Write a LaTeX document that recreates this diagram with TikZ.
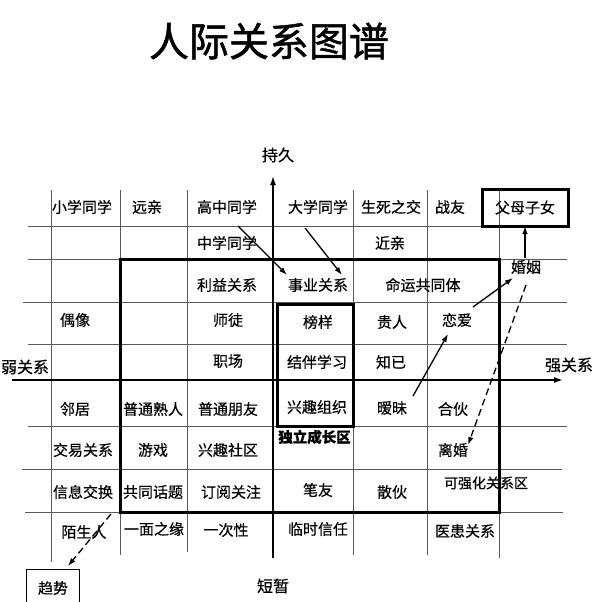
\documentclass[tikz,border=0pt]{standalone}
\usepackage{fontspec}
\newfontfamily\cjk{Noto Sans CJK SC}[FakeBold=0.4]
\newfontfamily\cjktitle{Noto Sans CJK SC}[FakeBold=1.2]
\usetikzlibrary{arrows.meta}
\begin{document}
\begin{tikzpicture}[x=1pt,y=-1pt,
  gridline/.style={line width=0.9pt, draw=black!65},
  boldbox/.style={line width=3pt, draw=black},
  cell/.style={font=\cjk\fontsize{15}{15}\selectfont, inner sep=0pt},
  axislbl/.style={font=\cjk\fontsize{16}{16}\selectfont, inner sep=0pt},
  axisline/.style={line width=1.5pt, -{Latex[length=9pt,width=6pt]}},
  arr/.style={line width=1.3pt, -{Latex[length=8pt,width=5.5pt]}},
  darr/.style={arr, dash pattern=on 7pt off 4pt}
]
\useasboundingbox (0,0) rectangle (600,602);
\fill[white] (0,0) rectangle (600,602);

% title
\node[font=\cjktitle\fontsize{40}{40}\selectfont, inner sep=0pt] (title) at (269,41) {人际关系图谱};

% grid
\draw[gridline] (28,226) -- (567,226);
\foreach \y/\a/\b in {259/28/567, 302/23/567, 344/28/567, 426/28/567, 469/22/562, 512/25/563}
  \draw[gridline] (\a,\y) -- (\b,\y);
\foreach \x/\b in {51/562, 120/555, 187/552, 353/555, 427/555, 499/558}
  \draw[gridline] (\x,190) -- (\x,\b);

% thick boxes
\draw[boldbox] (120,259) rectangle (499,512);
\draw[boldbox] (277,304) rectangle (353,426);

% axes
\coordinate (vbot) at (273,558);
\coordinate (vtop) at (273,176);
\coordinate (hl) at (12,380);
\coordinate (hr) at (563,380);
\draw[axisline] (vbot) -- (vtop);
\draw[axisline] (hl) -- (hr);
\node[axislbl] (chijiu) at (278,155) {持久};
\node[axislbl] (duanzan) at (273,586) {短暂};
\node[axislbl] (ruo) at (25,367) {弱关系};
\node[axislbl] (qiang) at (569,365) {强关系};

% special boxes
\node[cell, draw, line width=3pt, minimum width=86pt, minimum height=37pt] (fumu) at (525,207.5) {父母子女};
\node[cell, draw, line width=1pt, minimum width=53pt, minimum height=42pt, anchor=north] (qushi) at (52.5,569) {};
\node[cell] (qushit) at (53,588) {趋势};

% row 1
\node[cell] (xiaoxue) at (82,207) {小学同学};
\node[cell] (yuanqin) at (147,207) {远亲};
\node[cell] (gaozhong) at (227,207) {高中同学};
\node[cell] (daxue) at (318,207) {大学同学};
\node[cell] (shengsi) at (391,207) {生死之交};
\node[cell] (zhanyou) at (450,207) {战友};
% row 2
\node[cell] (zhongxue) at (227,243) {中学同学};
\node[cell] (jinqin) at (390,243) {近亲};
% row 3
\node[cell] (liyi) at (227,285) {利益关系};
\node[cell] (shiye) at (318,285) {事业关系};
\node[cell] (mingyun) at (423,285) {命运共同体};
% row 4
\node[cell] (ouxiang) at (75,320) {偶像};
\node[cell] (shitu) at (228,320) {师徒};
\node[cell] (bangyang) at (318,322) {榜样};
\node[cell] (guiren) at (392,322) {贵人};
\node[cell] (lianai) at (457,320) {恋爱};
% row 5
\node[cell] (zhichang) at (228,361) {职场};
\node[cell] (jieban) at (317,362) {结伴学习};
\node[cell] (zhiji) at (391,362) {知已};
% row 6
\node[cell] (linju) at (75,409) {邻居};
\node[cell] (shuren) at (153,409) {普通熟人};
\node[cell] (pengyou) at (228,409) {普通朋友};
\node[cell] (xingqu) at (317,407) {兴趣组织};
\node[cell] (aimei) at (392,408) {暧昧};
\node[cell] (hehuo) at (453,409) {合伙};
% row 7
\node[cell] (jiaoyi) at (83,450) {交易关系};
\node[cell] (youxi) at (153,450) {游戏};
\node[cell] (shequ) at (228,450) {兴趣社区};
\node[cell, font=\cjk\bfseries\fontsize{14.5}{14.5}\selectfont] (duli) at (314.5,437) {独立成长区};
\node[cell] (lihun) at (453,450) {离婚};
% row 8
\node[cell] (xinxi) at (83,492) {信息交换};
\node[cell] (huati) at (153,492) {共同话题};
\node[cell] (dingyue) at (231,492) {订阅关注};
\node[cell] (biyou) at (318,490) {笔友};
\node[cell] (sanhuo) at (392,492) {散伙};
\node[cell, font=\cjk\fontsize{14}{14}\selectfont] (kqh) at (486,483) {可强化关系区};
% row 9
\node[cell] (moshengren) at (84,532) {陌生人};
\node[cell] (yimian) at (154,529) {一面之缘};
\node[cell] (yici) at (226,530) {一次性};
\node[cell] (linshi) at (318,529) {临时信任};
\node[cell] (yihuan) at (465,531) {医患关系};
% marriage label
\node[cell] (hunyin) at (526,267) {婚姻};

% arrows
\coordinate (a1s) at (238,226); \coordinate (a1e) at (287,275);
\coordinate (a2s) at (305,228); \coordinate (a2e) at (342,275);
\coordinate (a3s) at (413,396); \coordinate (a3e) at (448,334);
\coordinate (a4s) at (473,307); \coordinate (a4e) at (513,278);
\coordinate (a5s) at (525,258); \coordinate (a5e) at (525,226);
\coordinate (a6s) at (526,285); \coordinate (a6e) at (468,445);
\coordinate (a7s) at (111,514); \coordinate (a7e) at (68,566);
\draw[arr] (a1s) -- (a1e);
\draw[arr] (a2s) -- (a2e);
\draw[arr] (a3s) -- (a3e);
\draw[arr] (a4s) -- (a4e);
\draw[arr] (a5s) -- (a5e);
\draw[darr] (a6s) -- (a6e);
\draw[darr] (a7s) -- (a7e);
\end{tikzpicture}
\end{document}
